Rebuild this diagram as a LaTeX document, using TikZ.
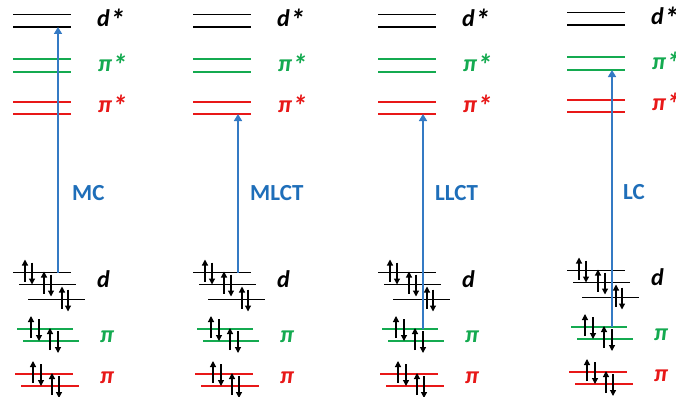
\documentclass[tikz,border=0pt]{standalone}
\usepackage{fontspec}
\setmainfont{Carlito}
\usetikzlibrary{arrows.meta}
\definecolor{lvgreen}{RGB}{20,170,80}
\definecolor{lvred}{RGB}{232,24,24}
\definecolor{trblue}{RGB}{52,122,196}
\definecolor{lbblue}{RGB}{30,110,185}
\tikzset{
  lev/.style={line width=1.6pt},
  levg/.style={line width=1.4pt,draw=lvgreen},
  levr/.style={line width=1.4pt,draw=lvred},
  spin/.style={line width=1.2pt,-{Triangle[width=6pt,length=6pt]}},
  trans/.style={line width=1.5pt,draw=trblue,-{Triangle[width=8pt,length=7pt]}},
  lab/.style={inner sep=0pt,anchor=base west,font=\fontsize{24}{28}\selectfont\bfseries\itshape},
  tlab/.style={inner sep=0pt,anchor=base west,text=lbblue,font=\fontsize{23}{27}\selectfont\bfseries},
}
\newcommand\bigast{\raisebox{-4pt}{\fontsize{30}{30}\selectfont *}}
\newcommand\mospins[3]{% x up, x down, level y
  \draw[spin] (#1,#3+9) -- (#1,#3-13);
  \draw[spin] (#2,#3-10) -- (#2,#3+12);
}
\newcommand\mocol[3]{% base x, dy, id
\begin{scope}[shift={(#1,#2)}]
  % empty levels
  \draw[lev] (0,14.5) -- (58,14.5);
  \draw[lev] (0,27) -- (58,27);
  \draw[levg] (0,59) -- (58,59);
  \draw[levg] (0,72) -- (58,72);
  \draw[levr] (0,102) -- (58,102);
  \draw[levr] (0,114) -- (58,114);
  % filled levels
  \draw[lev] (0,272.5) -- (58,272.5);
  \draw[lev] (6,284.5) -- (63,284.5);
  \draw[lev] (15,299.5) -- (72,299.5);
  \draw[levg] (4,329) -- (60,329);
  \draw[levg] (10,341) -- (66,341);
  \draw[levr] (2,374) -- (60,374);
  \draw[levr] (8,386) -- (66,386);
  \mospins{12}{19}{272.5}
  \mospins{31}{38}{284.5}
  \mospins{49}{55}{299.5}
  \mospins{18}{26}{329}
  \mospins{37}{45}{341}
  \mospins{20}{28}{374}
  \mospins{39}{46}{386}
  % anchor points for transitions
  \coordinate (#3-dstar) at (45,27);
  \coordinate (#3-gstar) at (45,72);
  \coordinate (#3-rstar) at (45,114);
  \coordinate (#3-d) at (45,272.5);
  \coordinate (#3-g) at (45,329);
  % labels
  \node[lab] (#3-ldstar) at (84,27) {d\bigast};
  \node[lab,text=lvgreen] (#3-lgstar) at (85,71) {π\bigast};
  \node[lab,text=lvred] (#3-lrstar) at (85,112) {π\bigast};
  \node[lab] (#3-ld) at (84,287) {d};
  \node[lab,text=lvgreen] (#3-lg) at (87,342) {π};
  \node[lab,text=lvred] (#3-lr) at (87,383) {π};
\end{scope}}
\begin{document}
\begin{tikzpicture}[x=1pt,y=-1pt]
  \useasboundingbox (0,0) rectangle (676,396);
  \fill[white] (0,0) rectangle (676,396);
  \mocol{13}{0}{a}
  \mocol{193}{0}{b}
  \mocol{378}{0}{c}
  \mocol{567}{-2}{e}
  \draw[trans] (a-d) -- (a-dstar);
  \draw[trans] (b-d) -- (b-rstar);
  \draw[trans] (c-g) -- (c-rstar);
  \draw[trans] (e-g) -- (e-gstar);
  \node[tlab] (mc) at (72,200) {MC};
  \node[tlab] (mlct) at (250,200) {MLCT};
  \node[tlab] (llct) at (435,200) {LLCT};
  \node[tlab] (lc) at (623,199) {LC};
\end{tikzpicture}
\end{document}
